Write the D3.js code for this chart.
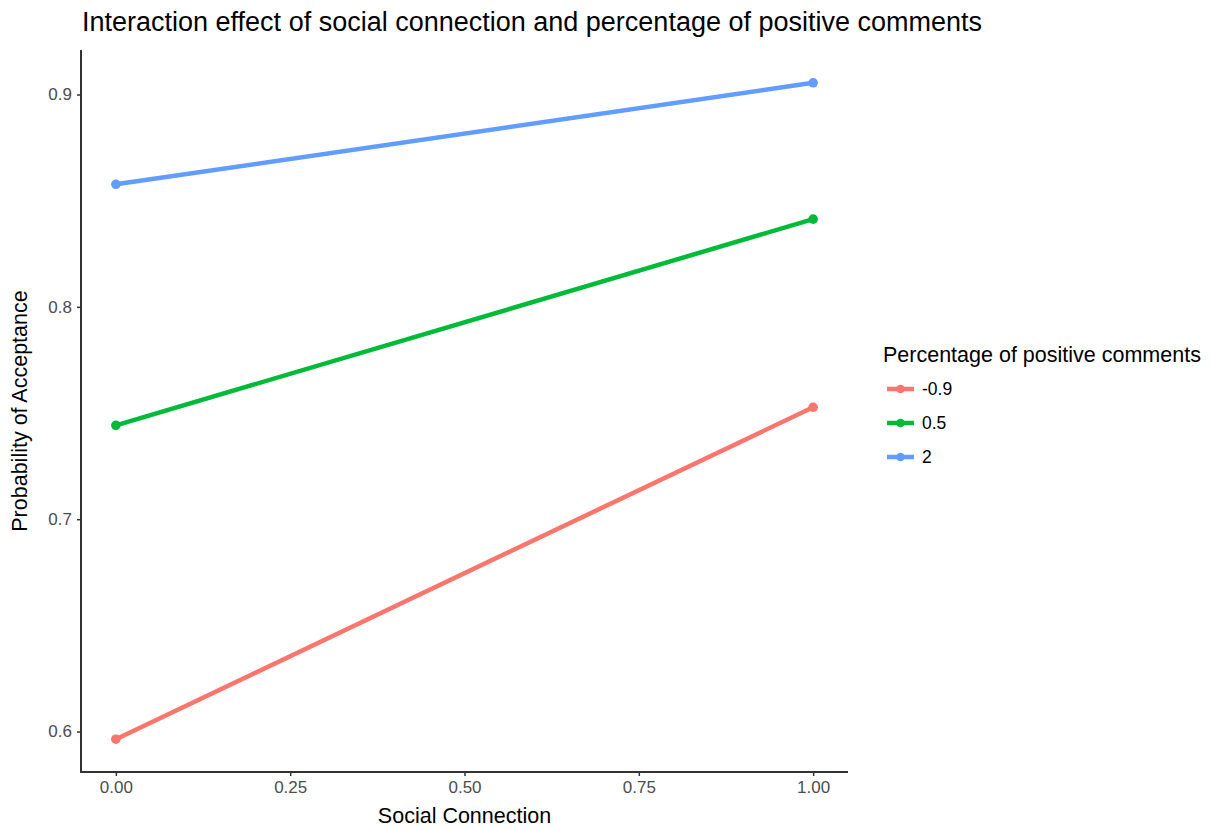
<!DOCTYPE html>
<html>
<head>
<meta charset="utf-8">
<script src="https://cdn.jsdelivr.net/npm/d3@7"></script>
<style>
  body { margin: 0; background: #fff; }
  svg { font-family: "Liberation Sans", Arial, sans-serif; }
  .tick text { fill: #4d4d4d; font-size: 17px; }
</style>
</head>
<body>
<div id="chart"></div>
<script>
"use strict";

// data
var xValues = [0, 1];
var groups = ["-0.9", "0.5", "2"];
var acceptance = {
  "-0.9": [0.5964, 0.7527],
  "0.5": [0.7442, 0.8413],
  "2": [0.8577, 0.9055]
};
var colors = ["#F8766D", "#00BA38", "#619CFF"];
var xTicks = [0, 0.25, 0.5, 0.75, 1];
var yTicks = [0.6, 0.7, 0.8, 0.9];

var width = 1214, height = 830;
var margin = { top: 50, right: 366, bottom: 58, left: 81 };

var svg = d3.select("#chart").append("svg")
  .attr("width", width).attr("height", height);

var x = d3.scaleLinear().domain([-0.05, 1.05]).range([margin.left, width - margin.right]);

var allY = d3.merge(groups.map(function (g) { return acceptance[g]; }));
var yExt = d3.extent(allY);
var pad = (yExt[1] - yExt[0]) * 0.05;
var y = d3.scaleLinear().domain([yExt[0] - pad, yExt[1] + pad]).range([height - margin.bottom, margin.top]);

var color = d3.scaleOrdinal().domain(groups).range(colors);

// axes
var xAxis = svg.append("g")
  .attr("transform", "translate(0," + (height - margin.bottom) + ")")
  .call(d3.axisBottom(x).tickValues(xTicks).tickFormat(d3.format(".2f")).tickSizeOuter(0).tickSize(4).tickPadding(5));
var yAxis = svg.append("g")
  .attr("transform", "translate(" + margin.left + ",0)")
  .call(d3.axisLeft(y).tickValues(yTicks).tickFormat(d3.format(".1f")).tickSizeOuter(0).tickSize(4).tickPadding(5));
[xAxis, yAxis].forEach(function (a) {
  a.select(".domain").remove();
  a.selectAll(".tick line").attr("stroke", "#333").attr("stroke-width", 1.5);
  a.attr("font-family", null).attr("font-size", null);
});
svg.append("line")
  .attr("x1", margin.left).attr("x2", margin.left)
  .attr("y1", margin.top).attr("y2", height - margin.bottom + 1)
  .attr("stroke", "#333").attr("stroke-width", 2);
svg.append("line")
  .attr("x1", margin.left - 1).attr("x2", width - margin.right)
  .attr("y1", height - margin.bottom).attr("y2", height - margin.bottom)
  .attr("stroke", "#333").attr("stroke-width", 2);

// lines and points
var line = d3.line()
  .x(function (d, i) { return x(xValues[i]); })
  .y(function (d) { return y(d); });

groups.forEach(function (g) {
  svg.append("path")
    .datum(acceptance[g])
    .attr("fill", "none")
    .attr("stroke", color(g))
    .attr("stroke-width", 4.5)
    .attr("d", line);
  svg.selectAll(null)
    .data(acceptance[g])
    .enter().append("circle")
    .attr("cx", function (d, i) { return x(xValues[i]); })
    .attr("cy", function (d) { return y(d); })
    .attr("r", 4.8)
    .attr("fill", color(g));
});

// titles
svg.append("text")
  .attr("x", margin.left + 1).attr("y", 31)
  .attr("font-size", 27).attr("fill", "#000")
  .text("Interaction effect of social connection and percentage of positive comments");

svg.append("text")
  .attr("x", x(0.5)).attr("y", 823)
  .attr("text-anchor", "middle").attr("font-size", 21.5).attr("fill", "#000")
  .text("Social Connection");

svg.append("text")
  .attr("transform", "translate(27," + ((margin.top + height - margin.bottom) / 2) + ") rotate(-90)")
  .attr("text-anchor", "middle").attr("font-size", 21.5).attr("fill", "#000")
  .text("Probability of Acceptance");

// legend
var legend = svg.append("g").attr("transform", "translate(883,0)");
legend.append("text")
  .attr("x", 0).attr("y", 362)
  .attr("font-size", 21.5).attr("fill", "#000")
  .text("Percentage of positive comments");

var keys = legend.selectAll(".key")
  .data(groups)
  .enter().append("g")
  .attr("transform", function (d, i) { return "translate(0," + (389 + i * 34) + ")"; });
keys.append("line")
  .attr("x1", 4).attr("x2", 31)
  .attr("stroke", function (d) { return color(d); })
  .attr("stroke-width", 4.5);
keys.append("circle")
  .attr("cx", 17.5).attr("r", 4.3)
  .attr("fill", function (d) { return color(d); });
keys.append("text")
  .attr("x", 39).attr("dy", "0.35em")
  .attr("font-size", 17.5).attr("fill", "#000")
  .text(function (d) { return d; });
</script>
</body>
</html>
